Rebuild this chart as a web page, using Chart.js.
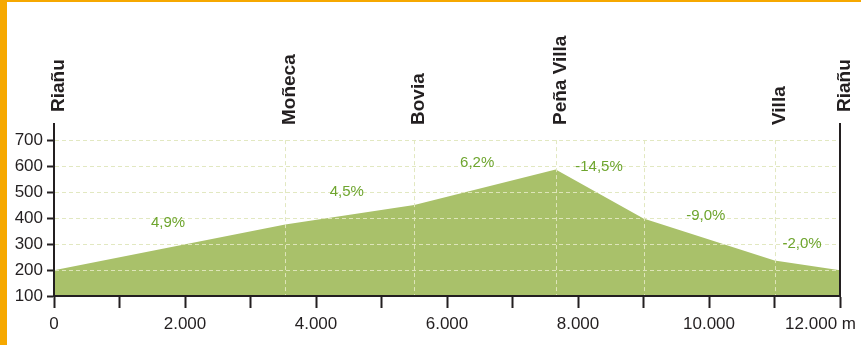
<!DOCTYPE html>
<html>
<head>
<meta charset="utf-8">
<script src="https://cdn.jsdelivr.net/npm/chart.js@4"></script>
<style>
  html, body { margin: 0; padding: 0; background: #fff; }
  #wrap { position: relative; width: 861px; height: 345px; }
</style>
</head>
<body>
<div id="wrap"><canvas id="profile" width="861" height="345"></canvas></div>
<script>
// Route profile: distance (m) and elevation (m) at each waypoint
const distances  = [0, 3530, 5500, 7660, 9000, 11000, 12000];
const elevations = [199, 375, 450, 587, 398, 237, 199];
const placeNames = ['Riañu', 'Moñeca', 'Bovia', 'Peña Villa', '', 'Villa', 'Riañu'];

// Gradient of each stretch and where its label sits (distance, elevation)
const gradeLabels = ['4,9%', '4,5%', '6,2%', '-14,5%', '-9,0%', '-2,0%'];
const gradeAtX    = [1740, 4470, 6460, 8320, 9950, 11420];
const gradeAtY    = [380, 500, 611, 596, 407, 299];

// Axis ticks
const yTicks = [100, 200, 300, 400, 500, 600, 700];
const xStep = 1000;
const xUnit = 'm';

const SANS = '"Liberation Sans", Arial, sans-serif';
const INK = '#231f20';
const FILL = '#a9c16a';
const GRADE = '#6ea52e';
const GRID = 'rgba(224, 231, 190, 0.95)';
const ORANGE = '#f6a800';

const fmtThousands = v => String(v).replace(/\B(?=(\d{3})+(?!\d))/g, '.');

const framePlugin = {
  id: 'frame',
  beforeDraw(chart) {
    const ctx = chart.ctx;
    ctx.save();
    ctx.fillStyle = '#fff';
    ctx.fillRect(0, 0, chart.width, chart.height);
    ctx.fillStyle = ORANGE;
    ctx.fillRect(0, 0, 7, chart.height);
    ctx.fillRect(0, 0, chart.width, 2);
    ctx.restore();
  }
};

const waypointLinesPlugin = {
  id: 'waypointLines',
  afterDatasetsDraw(chart) {
    const { ctx, chartArea, scales: { x, y } } = chart;
    ctx.save();
    ctx.strokeStyle = GRID;
    ctx.lineWidth = 1;
    ctx.setLineDash([4, 3]);
    const top = y.getPixelForValue(yTicks[yTicks.length - 1]);
    distances.forEach((d, i) => {
      if (i === 0 || i === distances.length - 1) return;
      const px = Math.round(x.getPixelForValue(d)) + 0.5;
      ctx.beginPath();
      ctx.moveTo(px, top);
      ctx.lineTo(px, chartArea.bottom);
      ctx.stroke();
    });
    ctx.restore();
  }
};

const annotationsPlugin = {
  id: 'annotations',
  afterDraw(chart) {
    const { ctx, chartArea, scales: { x, y } } = chart;
    ctx.save();

    // gradient labels
    ctx.font = '15px ' + SANS;
    ctx.fillStyle = GRADE;
    ctx.textAlign = 'center';
    ctx.textBaseline = 'middle';
    gradeLabels.forEach((t, i) => {
      ctx.fillText(t, x.getPixelForValue(gradeAtX[i]), y.getPixelForValue(gradeAtY[i]));
    });

    // waypoint names, written upwards
    ctx.font = 'bold 19px ' + SANS;
    ctx.fillStyle = INK;
    ctx.textAlign = 'left';
    ctx.textBaseline = 'alphabetic';
    distances.forEach((d, i) => {
      const name = placeNames[i];
      if (!name) return;
      const isEnd = i === 0 || i === distances.length - 1;
      const px = x.getPixelForValue(d);
      const base = isEnd ? chartArea.top - 12 : chartArea.top + 1;
      ctx.save();
      ctx.translate(px + 10, base);
      ctx.rotate(-Math.PI / 2);
      ctx.fillText(name, 0, 0);
      ctx.restore();
    });

    // last distance label with its unit
    const last = distances[distances.length - 1];
    ctx.font = '17px ' + SANS;
    ctx.textAlign = 'right';
    ctx.textBaseline = 'top';
    let ly = x.top + 12 + 5;
    if (typeof x.getLabelItems === 'function') {
      const items = x.getLabelItems();
      const ref = items.find(it => it.label && it.label !== '');
      if (ref) {
        ly = ref.options.translation[1];
        ctx.textBaseline = ref.options.textBaseline;
        if (ref.textOffset) ly += ref.textOffset;
      }
    }
    ctx.fillText(fmtThousands(last) + ' ' + xUnit, chart.width - 5, ly);
    ctx.restore();
  }
};

new Chart(document.getElementById('profile'), {
  type: 'line',
  data: {
    datasets: [{
      data: distances.map((d, i) => ({ x: d, y: elevations[i] })),
      fill: 'start',
      backgroundColor: FILL,
      borderWidth: 0,
      borderColor: FILL,
      pointRadius: 0,
      tension: 0
    }]
  },
  options: {
    responsive: false,
    animation: false,
    devicePixelRatio: 1,
    layout: { padding: { top: 124, right: 21, bottom: 0, left: 0 } },
    plugins: { legend: { display: false }, tooltip: { enabled: false } },
    scales: {
      x: {
        type: 'linear',
        min: 0,
        max: 12000,
        afterBuildTicks: s => {
          const t = [];
          for (let v = 0; v <= 12000; v += xStep) t.push({ value: v });
          s.ticks = t;
        },
        afterFit: s => { s.height = 49; },
        ticks: {
          autoSkip: false,
          maxRotation: 0,
          padding: 6,
          color: INK,
          font: { family: SANS, size: 17 },
          callback: v => (v % 2000 === 0 && v < 12000) ? fmtThousands(v) : ''
        },
        grid: { drawOnChartArea: false, tickLength: 12, tickColor: INK, tickWidth: 2 },
        border: { color: INK, width: 2, z: 1 }
      },
      y: {
        min: 100,
        max: 762,
        afterBuildTicks: s => { s.ticks = yTicks.map(v => ({ value: v })); },
        afterFit: s => { s.width = 54; },
        ticks: {
          padding: 4,
          color: INK,
          font: { family: SANS, size: 17 },
          callback: v => String(v)
        },
        grid: {
          z: 1,
          color: c => (c.tick && c.tick.value > 100) ? GRID : 'rgba(0,0,0,0)',
          lineWidth: 1,
          tickLength: 7,
          tickColor: INK,
          tickWidth: 2
        },
        border: { color: INK, width: 2, z: 1, dash: [4, 3] }
      },
      yRight: {
        position: 'right',
        min: 100,
        max: 762,
        afterFit: s => { s.width = 0; },
        ticks: { display: false },
        grid: { display: false, drawTicks: false },
        border: { color: INK, width: 2, z: 1 }
      }
    }
  },
  plugins: [framePlugin, waypointLinesPlugin, annotationsPlugin]
});
</script>
</body>
</html>
